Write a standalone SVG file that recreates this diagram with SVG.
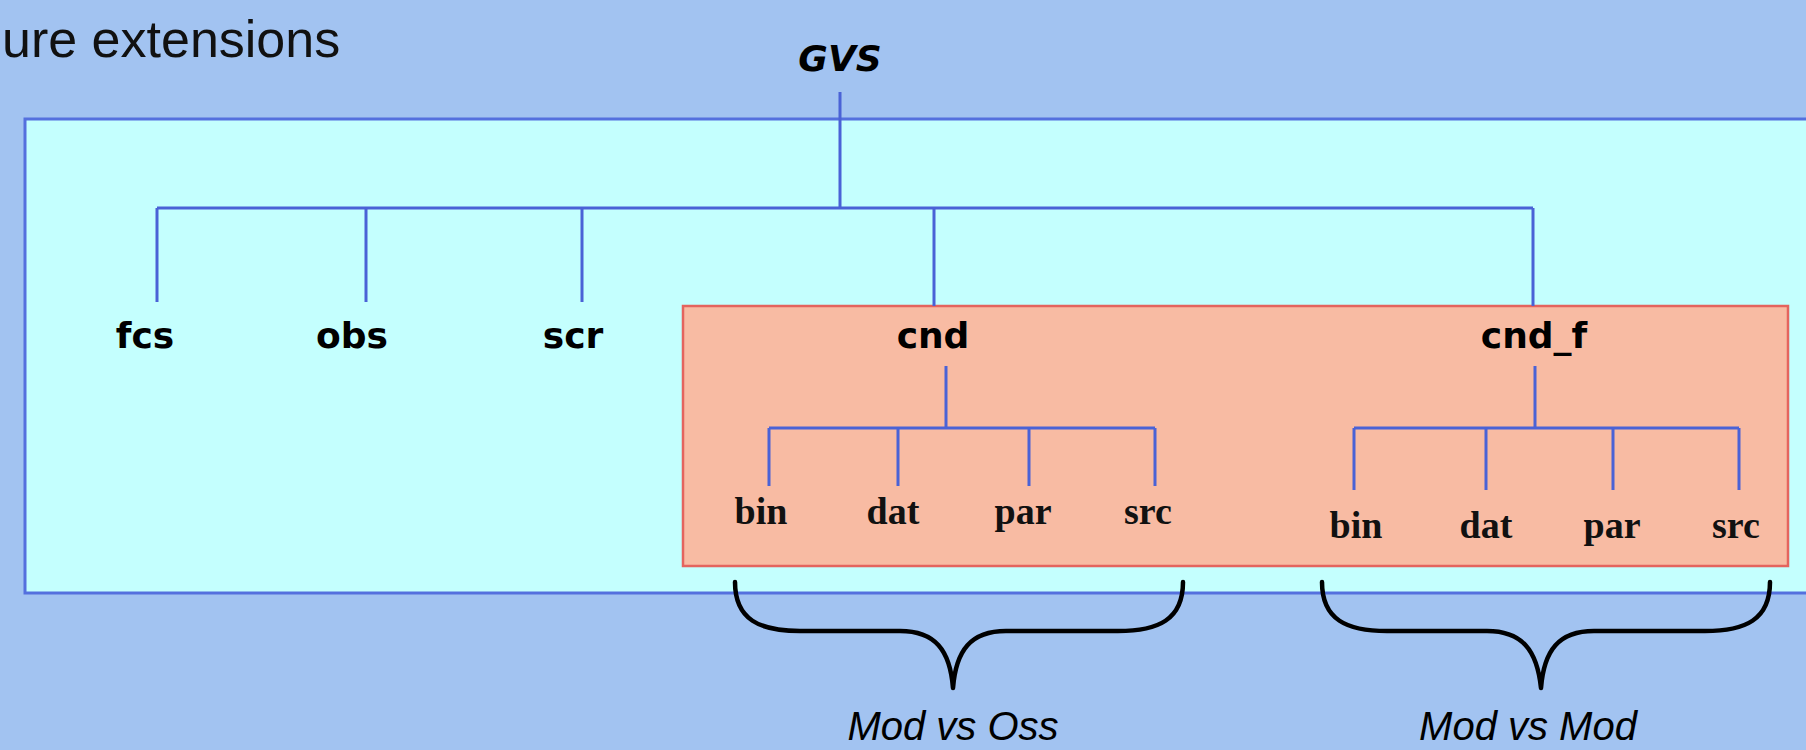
<svg xmlns="http://www.w3.org/2000/svg" width="1806" height="750" viewBox="0 0 1806 750">
<style>
.bg{fill:#A2C3F1}
.outer{fill:#C4FFFE;stroke:#5470DE;stroke-width:3}
.pink{fill:#F8BBA3;stroke:#E4645E;stroke-width:2.5}
.ln{stroke:#4A62D6;stroke-width:3;fill:none}
.brace{stroke:#000;stroke-width:4.5;fill:none;stroke-linecap:round;stroke-linejoin:round}
.title{font-family:"Liberation Sans",Arial,sans-serif;font-size:52px;fill:#111}
.top{font-family:"DejaVu Sans",sans-serif;font-weight:bold;font-size:36px;fill:#000;text-anchor:middle}
.leaf{font-family:"Liberation Serif","Times New Roman",serif;font-weight:bold;font-size:38px;fill:#111;text-anchor:middle}
.note{font-family:"Liberation Sans",Arial,sans-serif;font-style:italic;font-size:40px;fill:#000;text-anchor:middle}
</style>
<rect class="bg" x="0" y="0" width="1806" height="750"/>
<text class="title" x="2" y="57">ure extensions</text>
<rect id="container" class="outer" x="25" y="119" width="1800" height="474"/>
<rect id="group" class="pink" x="683" y="306" width="1105" height="260"/>
<g id="connectors">
<path class="ln" d="M840 92V208M157 208H1533M157 208V302M366 208V302M582 208V302M934 208V306M1533 208V306"/>
<path class="ln" d="M946 366V428M769 428H1155M769 428V486M898 428V486M1029 428V486M1155 428V486"/>
<path class="ln" d="M1535 366V428M1354 428H1739M1354 428V490M1486 428V490M1613 428V490M1739 428V490"/>
</g>
<g id="n-gvs"><text class="top" x="840" y="71" font-style="italic" font-size="38">GVS</text></g>
<g id="n-fcs"><text class="top" x="145" y="348">fcs</text></g>
<g id="n-obs"><text class="top" x="352" y="348">obs</text></g>
<g id="n-scr"><text class="top" x="573" y="348">scr</text></g>
<g id="n-cnd"><text class="top" x="933" y="348">cnd</text></g>
<g id="n-cndf"><text class="top" x="1534" y="348">cnd_f</text></g>
<g id="n-cnd-leaves">
<text class="leaf" x="761" y="524">bin</text>
<text class="leaf" x="893" y="524">dat</text>
<text class="leaf" x="1023" y="524">par</text>
<text class="leaf" x="1148" y="524">src</text>
</g>
<g id="n-cndf-leaves">
<text class="leaf" x="1356" y="538">bin</text>
<text class="leaf" x="1486" y="538">dat</text>
<text class="leaf" x="1612" y="538">par</text>
<text class="leaf" x="1736" y="538">src</text>
</g>
<g id="brace1">
<path class="brace" d="M735 582C735 620 760 631 800 631H900C935 631 950 650 953 688C956 650 971 631 1006 631H1118C1158 631 1183 620 1183 582"/>
<text class="note" x="953" y="740">Mod vs Oss</text>
</g>
<g id="brace2">
<path class="brace" d="M1322 582C1322 620 1347 631 1387 631H1487C1522 631 1537 650 1541 688C1544 650 1559 631 1594 631H1705C1745 631 1770 620 1770 582"/>
<text class="note" x="1528" y="740">Mod vs Mod</text>
</g>
</svg>
